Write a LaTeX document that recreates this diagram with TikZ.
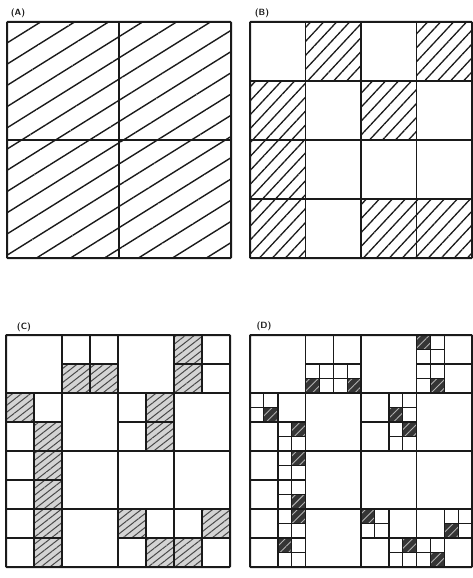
\documentclass[tikz,border=0pt]{standalone}
\usetikzlibrary{patterns.meta}
\definecolor{ink}{HTML}{1A1A1A}
\definecolor{shade}{HTML}{D4D4D4}
\tikzset{
  qtgrid/.style     = {draw=ink, line width=1.5pt},
  qtfine/.style     = {draw=ink, line width=1.1pt},
  qtframe/.style    = {draw=ink, line width=2pt, rounded corners=0.8pt},
  qthatchA/.style   = {pattern={Lines[angle=32,distance=18pt,line width=1.4pt]}, pattern color=ink},
  qthatchB/.style   = {pattern={Lines[angle=47,distance=9.5pt,line width=1.3pt]}, pattern color=ink},
  qthatchC/.style   = {preaction={fill=shade}, pattern={Lines[angle=38,distance=5.5pt,line width=1pt]}, pattern color=ink!80},
  qtdark/.style     = {fill=ink!88},
  qtdarkline/.style = {pattern={Lines[angle=45,distance=6pt,line width=0.9pt]}, pattern color=gray!60},
  qttag/.style      = {font=\sffamily\bfseries\small, text=ink, inner sep=0pt},
  % one panel = 16 x 16 units, origin at its top left corner
  qtA/.style = {shift={(7,22)},    x={(14pt,0pt)},     y={(0pt,-14.75pt)}},
  qtB/.style = {shift={(250,22)},  x={(13.875pt,0pt)}, y={(0pt,-14.75pt)}},
  qtC/.style = {shift={(6,335)},   x={(14pt,0pt)},     y={(0pt,-14.5pt)}},
  qtD/.style = {shift={(250,335)}, x={(13.875pt,0pt)}, y={(0pt,-14.5pt)}},
}
% hatched blocks: level 2 (4x4) and level 3 (8x8), as col/row
\newcommand{\qtlevelB}{1/0,3/0,0/1,2/1,0/2,0/3,2/3,3/3}
\newcommand{\qtlevelC}{2/1,3/1,6/0,6/1,0/2,1/3,5/2,5/3,1/4,1/5,1/6,1/7,4/6,5/7,7/6,6/7}
\newcommand{\qtlevelD}{4/3,7/3,12/0,13/3,1/5,3/6,10/5,11/6,3/8,3/11,3/12,2/14,8/12,11/14,14/13,13/15}

\begin{document}
\begin{tikzpicture}[x=1pt, y=-1pt]
\useasboundingbox (0,0) rectangle (473,578);

\node[qttag] (tagA) at (18,13)  {(A)};
\node[qttag] (tagB) at (262,13) {(B)};
\node[qttag] (tagC) at (24,327) {(C)};
\node[qttag] (tagD) at (264,326) {(D)};

% (A)
\begin{scope}[qtA]
  \path[qthatchA] (0,0) rectangle (16,16);
  \draw[qtgrid] (8,0) -- (8,16) (0,8) -- (16,8);
  \draw[qtframe] (0,0) rectangle (16,16);
\end{scope}

% (B)
\begin{scope}[qtB]
  \foreach \c/\r in \qtlevelB
    \path[qthatchB] (4*\c,4*\r) rectangle ++(4,4);
  \foreach \k in {4,8,12}
    \draw[qtgrid] (\k,0) -- (\k,16) (0,\k) -- (16,\k);
  \draw[qtframe] (0,0) rectangle (16,16);
\end{scope}

% (C)
\begin{scope}[qtC]
  \foreach \c/\r in \qtlevelC
    \path[qthatchC] (2*\c,2*\r) rectangle ++(2,2);
  \foreach \k in {4,8,12}
    \draw[qtgrid] (\k,0) -- (\k,16) (0,\k) -- (16,\k);
  \foreach \c/\r in \qtlevelB
    \draw[qtgrid] (4*\c+2,4*\r) -- ++(0,4) (4*\c,4*\r+2) -- ++(4,0);
  \draw[qtframe] (0,0) rectangle (16,16);
\end{scope}

% (D)
\begin{scope}[qtD]
  \foreach \c/\r in \qtlevelD {
    \fill[qtdark] (\c,\r) rectangle ++(1,1);
    \path[qtdarkline] (\c,\r) rectangle ++(1,1);
  }
  \foreach \k in {4,8,12}
    \draw[qtgrid] (\k,0) -- (\k,16) (0,\k) -- (16,\k);
  \foreach \c/\r in \qtlevelB
    \draw[qtgrid] (4*\c+2,4*\r) -- ++(0,4) (4*\c,4*\r+2) -- ++(4,0);
  \foreach \c/\r in \qtlevelC
    \draw[qtfine] (2*\c+1,2*\r) -- ++(0,2) (2*\c,2*\r+1) -- ++(2,0);
  \draw[qtframe] (0,0) rectangle (16,16);
\end{scope}
\end{tikzpicture}
\end{document}
